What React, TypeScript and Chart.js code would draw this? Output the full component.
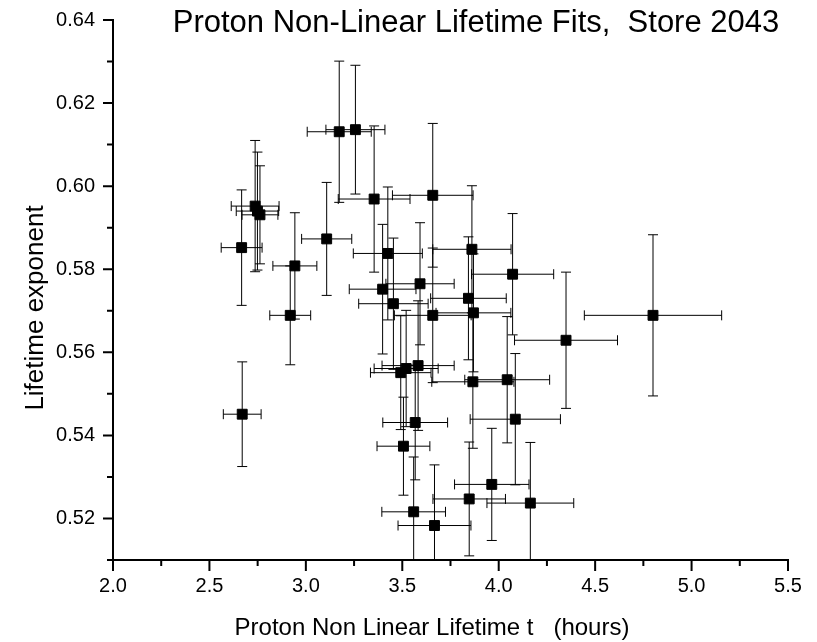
import React, { useEffect, useRef } from 'react';
import { Chart, registerables } from 'chart.js';

Chart.register(...registerables);

// Proton non-linear lifetime (hours) and its error
const lifetimeHours = [
  2.667, 2.670, 2.737, 2.749, 2.762, 2.919, 2.943, 3.108, 3.173, 3.257,
  3.354, 3.658, 3.425, 3.398, 3.592, 3.454, 3.658, 3.520, 3.582, 3.492,
  3.506, 3.567, 3.559, 3.667, 3.861, 4.072, 3.843, 3.869, 4.349, 3.866,
  4.044, 4.086, 3.964, 3.847, 4.164, 4.800,
];
const lifetimeErr = [
  0.106, 0.098, 0.124, 0.110, 0.093, 0.106, 0.114, 0.130, 0.166, 0.153,
  0.186, 0.209, 0.179, 0.173, 0.177, 0.180, 0.199, 0.166, 0.187, 0.157,
  0.137, 0.168, 0.165, 0.189, 0.203, 0.213, 0.196, 0.194, 0.267, 0.213,
  0.220, 0.234, 0.193, 0.188, 0.225, 0.356,
];
// Lifetime exponent and its error
const exponent = [
  0.5852, 0.5451, 0.5952, 0.5940, 0.5931, 0.5689, 0.5808, 0.5873, 0.6131, 0.6136,
  0.5969, 0.5978, 0.5838, 0.5752, 0.5765, 0.5717, 0.5689, 0.5561, 0.5568, 0.5551,
  0.5374, 0.5431, 0.5216, 0.5183, 0.5848, 0.5788, 0.5730, 0.5695, 0.5629, 0.5529,
  0.5534, 0.5439, 0.5282, 0.5247, 0.5237, 0.5689,
];
const exponentErr = [
  0.0139, 0.0126, 0.0158, 0.0142, 0.0118, 0.0119, 0.0128, 0.0136, 0.0170, 0.0155,
  0.0176, 0.0173, 0.0160, 0.0156, 0.0147, 0.0158, 0.0162, 0.0140, 0.0156, 0.0137,
  0.0118, 0.0138, 0.0132, 0.0146, 0.0153, 0.0146, 0.0148, 0.0142, 0.0164, 0.0160,
  0.0152, 0.0158, 0.0135, 0.0137, 0.0146, 0.0194,
];

const titleText = 'Proton Non-Linear Lifetime Fits,  Store 2043';
const xTitleText = 'Proton Non Linear Lifetime t   (hours)';
const yTitleText = 'Lifetime exponent';

const xMin = 2.0, xMax = 5.5, xStep = 0.25;
const yMin = 0.51, yMax = 0.64, yStep = 0.01;

const FONT = '"Liberation Sans", Arial, Helvetica, sans-serif';

const isMajorX = (v: number) => Math.abs(Math.round(v * 2) - v * 2) < 1e-6;
const isMajorY = (v: number) => Math.round(v * 100) % 2 === 0;

const errorBarPlugin = {
  id: 'errorBars',
  beforeDatasetsDraw(chart: any) {
    const { ctx, chartArea, scales } = chart;
    const xs = scales.x, ys = scales.y;
    ctx.save();
    ctx.beginPath();
    ctx.rect(chartArea.left, chartArea.top, chartArea.right - chartArea.left, chartArea.bottom - chartArea.top);
    ctx.clip();
    ctx.strokeStyle = '#000';
    ctx.lineWidth = 1;
    const cap = 5;
    for (let i = 0; i < lifetimeHours.length; i++) {
      const x = xs.getPixelForValue(lifetimeHours[i]);
      const y = ys.getPixelForValue(exponent[i]);
      const xl = xs.getPixelForValue(lifetimeHours[i] - lifetimeErr[i]);
      const xr = xs.getPixelForValue(lifetimeHours[i] + lifetimeErr[i]);
      const yt = ys.getPixelForValue(exponent[i] + exponentErr[i]);
      const yb = ys.getPixelForValue(exponent[i] - exponentErr[i]);
      ctx.beginPath();
      ctx.moveTo(xl, y); ctx.lineTo(xr, y);
      ctx.moveTo(xl, y - cap); ctx.lineTo(xl, y + cap);
      ctx.moveTo(xr, y - cap); ctx.lineTo(xr, y + cap);
      ctx.moveTo(x, yt); ctx.lineTo(x, yb);
      ctx.moveTo(x - cap, yt); ctx.lineTo(x + cap, yt);
      ctx.moveTo(x - cap, yb); ctx.lineTo(x + cap, yb);
      ctx.stroke();
    }
    ctx.restore();
  },
};

const decorPlugin = {
  id: 'decor',
  afterDraw(chart: any) {
    const { ctx, chartArea, scales } = chart;
    const xs = scales.x, ys = scales.y;
    ctx.save();
    ctx.strokeStyle = '#000';
    ctx.lineWidth = 2;
    // tick marks
    ctx.beginPath();
    for (const t of xs.ticks) {
      const px = xs.getPixelForValue(t.value);
      const len = isMajorX(t.value) ? 11 : 6;
      ctx.moveTo(px, chartArea.bottom);
      ctx.lineTo(px, chartArea.bottom + len);
    }
    for (const t of ys.ticks) {
      const py = ys.getPixelForValue(t.value);
      const len = isMajorY(t.value) ? 10 : 6;
      ctx.moveTo(chartArea.left, py);
      ctx.lineTo(chartArea.left - len, py);
    }
    ctx.stroke();

    ctx.fillStyle = '#000';
    // title
    ctx.font = `31px ${FONT}`;
    ctx.textAlign = 'center';
    ctx.textBaseline = 'alphabetic';
    ctx.fillText(titleText, 476, 32);
    // x title
    ctx.font = `24px ${FONT}`;
    ctx.fillText(xTitleText, 432, 635);
    // y title
    ctx.translate(43, 308);
    ctx.rotate(-Math.PI / 2);
    ctx.font = `26px ${FONT}`;
    ctx.fillText(yTitleText, 0, 0);
    ctx.restore();
  },
};

export default function App() {
  const canvasRef = useRef<HTMLCanvasElement | null>(null);

  useEffect(() => {
    const canvas = canvasRef.current;
    if (!canvas) return;
    const points = lifetimeHours.map((x, i) => ({ x, y: exponent[i] }));
    const chart = new Chart(canvas, {
      type: 'scatter',
      data: {
        datasets: [
          {
            label: 'Lifetime exponent',
            data: points,
            pointStyle: 'rect',
            pointRadius: 7,
            pointHoverRadius: 7,
            backgroundColor: '#000',
            borderColor: '#000',
            borderWidth: 1,
          },
        ],
      },
      options: {
        animation: false,
        responsive: false,
        events: [],
        layout: { padding: { top: 17, right: 29, left: 0, bottom: 0 } },
        plugins: {
          legend: { display: false },
          tooltip: { enabled: false },
          title: { display: false },
        },
        scales: {
          x: {
            type: 'linear',
            min: xMin,
            max: xMax,
            afterFit: (s: any) => { s.height = 82; },
            ticks: {
              stepSize: xStep,
              autoSkip: false,
              maxRotation: 0,
              padding: 3,
              color: '#000',
              font: { family: FONT, size: 20 },
              callback: (v: any) => (isMajorX(Number(v)) ? Number(v).toFixed(1) : ''),
            },
            grid: { display: true, drawOnChartArea: false, drawTicks: true, tickLength: 11, tickColor: 'rgba(0,0,0,0)' },
            border: { display: true, color: '#000', width: 2 },
          },
          y: {
            type: 'linear',
            min: yMin,
            max: yMax,
            afterFit: (s: any) => { s.width = 113; },
            ticks: {
              stepSize: yStep,
              autoSkip: false,
              padding: 8,
              color: '#000',
              font: { family: FONT, size: 20 },
              callback: (v: any) => (isMajorY(Number(v)) ? Number(v).toFixed(2) : ''),
            },
            grid: { display: true, drawOnChartArea: false, drawTicks: true, tickLength: 10, tickColor: 'rgba(0,0,0,0)' },
            border: { display: true, color: '#000', width: 2 },
          },
        },
      },
      plugins: [errorBarPlugin, decorPlugin],
    });
    return () => chart.destroy();
  }, []);

  return (
    <div style={{ position: 'absolute', left: 0, top: 0, width: 817, height: 642, background: '#fff' }}>
      <canvas ref={canvasRef} width={817} height={642} style={{ display: 'block' }} />
    </div>
  );
}
